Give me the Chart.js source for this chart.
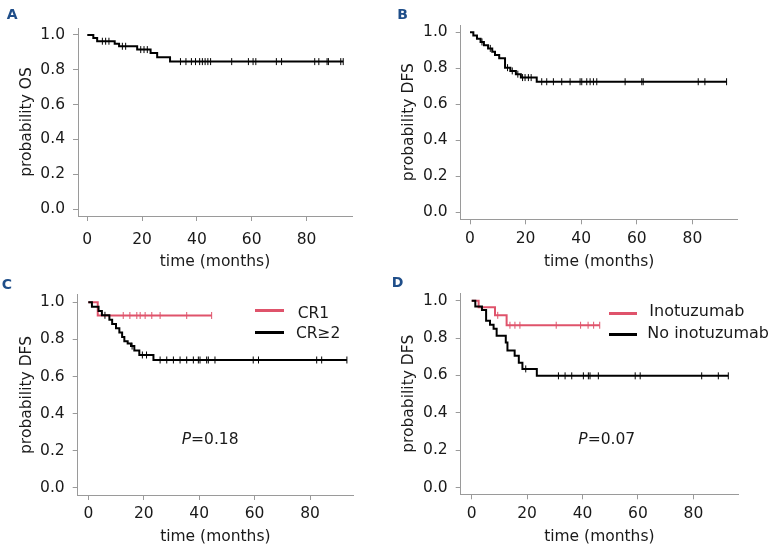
<!DOCTYPE html>
<html>
<head>
<meta charset="utf-8">
<script src="https://cdn.jsdelivr.net/npm/chart.js@4/dist/chart.umd.min.js"></script>
<style>
  html, body { margin: 0; padding: 0; background: #fff; }
  #wrap { position: relative; width: 775px; height: 552px; overflow: hidden; font-family: "DejaVu Sans", sans-serif; color: #1a1a1a; }
  canvas { position: absolute; }
  .lbl { position: absolute; white-space: nowrap; line-height: 20px; }
  .letter { position: absolute; font-weight: bold; font-size: 14px; line-height: 16px; color: #1f4e89; }
  .sw { position: absolute; height: 3px; }
</style>
</head>
<body>
<div id="wrap">
  <canvas id="cA" width="387" height="276" style="left:0px;top:0px"></canvas>
  <canvas id="cB" width="387" height="276" style="left:388px;top:0px"></canvas>
  <canvas id="cC" width="387" height="276" style="left:0px;top:276px"></canvas>
  <canvas id="cD" width="387" height="276" style="left:388px;top:276px"></canvas>

  <div class="letter" style="left:6.7px;top:5.6px">A</div>
  <div class="letter" style="left:397.3px;top:5.6px">B</div>
  <div class="letter" style="left:1.7px;top:275.7px">C</div>
  <div class="letter" style="left:391.7px;top:274px">D</div>

  <div class="sw" style="left:255px;top:309.2px;width:28.5px;background:#DF536B"></div>
  <div class="sw" style="left:255px;top:330.8px;width:28.5px;background:#000"></div>
  <div class="lbl" style="left:297.7px;top:302.8px;font-size:15.5px">CR1</div>
  <div class="lbl" style="left:296px;top:322.8px;font-size:15.5px">CR≥2</div>

  <div class="sw" style="left:608.5px;top:311.8px;width:28px;background:#DF536B"></div>
  <div class="sw" style="left:608.5px;top:332.8px;width:28px;background:#000"></div>
  <div class="lbl" style="left:649.3px;top:301.3px;font-size:16px">Inotuzumab</div>
  <div class="lbl" style="left:647.3px;top:322.8px;font-size:16px">No inotuzumab</div>

  <div class="lbl" style="left:181.7px;top:428.6px;font-size:15.5px"><i>P</i>=0.18</div>
  <div class="lbl" style="left:578.3px;top:428.6px;font-size:15.5px"><i>P</i>=0.07</div>
</div>
<script>
// ---- tick labels ----
const timeTicks = [0, 20, 40, 60, 80];
const probTicks = [0, 0.2, 0.4, 0.6, 0.8, 1.0];

// ---- Panel A: overall survival ----
const osTimes  = [0, 2.2, 3.6, 10, 11.6, 18.2, 23.1, 25.5, 30.2];
const osSurv   = [1, 0.983, 0.964, 0.95, 0.935, 0.916, 0.897, 0.872, 0.847];
const osCensor = [5.5, 6.7, 7.9, 12.8, 14, 19.5, 20.7, 21.9, 34, 36, 38, 39.5, 41, 42, 43, 44, 45, 52.7, 58.8, 60.5, 61.5, 69, 70.9, 83, 84.5, 87.5, 88, 92.5, 93.4];

// ---- Panel B: disease-free survival ----
const dfsTimes  = [0, 1.2, 2.5, 3.8, 5, 6.5, 8, 9, 10.5, 12.6, 14.5, 16.5, 18.3, 24];
const dfsSurv   = [1, 0.982, 0.964, 0.946, 0.928, 0.91, 0.892, 0.874, 0.856, 0.803, 0.785, 0.767, 0.748, 0.725];
const dfsCensor = [4.3, 7.3, 13.5, 15.2, 17.2, 18.9, 19.8, 21, 22, 25.8, 27.6, 30, 33, 36, 39.6, 40.2, 42, 43.2, 44.4, 45.6, 55.8, 61.8, 62.3, 82.1, 84.5, 92.3];

// ---- Panel C: CR1 vs CR>=2 ----
const cr1Times  = [0, 3.4];
const cr1Surv   = [1, 0.929];
const cr1Censor = [12.6, 15, 17.5, 18.7, 20.5, 22.9, 25.9, 35.5, 44.5];
const cr2Times  = [0, 1.3, 3.7, 4.9, 7.6, 8.6, 10, 11.2, 12.2, 13, 14.2, 15.4, 16.6, 18.4, 23.5];
const cr2Surv   = [1, 0.976, 0.953, 0.93, 0.906, 0.883, 0.86, 0.837, 0.813, 0.79, 0.778, 0.764, 0.74, 0.716, 0.689];
const cr2Censor = [6, 15.8, 19.5, 21, 25.9, 28.3, 30.7, 33.1, 35.5, 37.9, 39.7, 40.3, 42.7, 43.3, 45.7, 59.5, 61.4, 82.4, 84.2, 93.3];

// ---- Panel D: Inotuzumab vs no inotuzumab ----
const inoTimes    = [0, 2.5, 8.4, 12.6];
const inoSurv     = [1, 0.965, 0.922, 0.869];
const inoCensor   = [9.4, 13.8, 15.6, 17.4, 30.5, 39.3, 42, 44, 46.2];
const noInoTimes  = [0, 1.3, 3.7, 5.2, 6.6, 7.9, 9, 12.3, 12.9, 15.5, 17, 18.3, 23.5];
const noInoSurv   = [1, 0.969, 0.95, 0.893, 0.872, 0.85, 0.812, 0.776, 0.734, 0.705, 0.668, 0.635, 0.598];
const noInoCensor = [19.5, 31.3, 33.7, 36.1, 40.3, 42.1, 42.7, 45.7, 59, 60.8, 83, 89, 92.6];

const PINK = '#DF536B';
const BLACK = '#000000';
const AXIS = '#9a9a9a';
const TEXT = '#1a1a1a';
const FONT = 'DejaVu Sans';

function survAt(times, surv, t) {
  let s = surv[0];
  for (let i = 0; i < times.length; i++) { if (times[i] <= t) s = surv[i]; }
  return s;
}

function kmDatasets(times, surv, censor, color, order) {
  const end = Math.max(times[times.length - 1], ...censor);
  const line = times.map((t, i) => ({ x: t, y: surv[i] }));
  line.push({ x: end, y: surv[surv.length - 1] });
  const marks = censor.map(c => ({ x: c, y: survAt(times, surv, c) }));
  return [
    { data: line, borderColor: color, borderWidth: 2, stepped: true, pointRadius: 0, fill: false, order: order },
    { data: marks, showLine: false, borderColor: color, backgroundColor: color, borderWidth: 1,
      pointStyle: 'line', rotation: 90, pointRadius: 3.5, order: order }
  ];
}

function makeChart(id, datasets, g) {
  new Chart(document.getElementById(id), {
    type: 'line',
    data: { datasets: datasets },
    options: {
      responsive: false,
      animation: false,
      events: [],
      layout: { autoPadding: false, padding: { left: 0, top: g.top, right: g.right, bottom: g.bottom } },
      plugins: { legend: { display: false }, tooltip: { enabled: false } },
      scales: {
        x: {
          type: 'linear', min: g.xmin, max: g.xmax,
          afterBuildTicks: s => { s.ticks = timeTicks.map(v => ({ value: v })); },
          afterFit: s => { s.height = g.xH; },
          grid: { display: true, drawOnChartArea: false, drawTicks: true, tickLength: 5, color: AXIS, lineWidth: 1 },
          border: { display: true, color: AXIS, width: 1 },
          ticks: { color: TEXT, padding: g.xPad, maxRotation: 0, font: { family: FONT, size: 15.5 },
                   callback: v => String(v) },
          title: { display: true, text: 'time (months)', color: TEXT, padding: { top: 0, bottom: 0 },
                   font: { family: FONT, size: 15.5 } }
        },
        y: {
          type: 'linear', min: g.ymin, max: g.ymax,
          afterBuildTicks: s => { s.ticks = probTicks.map(v => ({ value: v })); },
          afterFit: s => { s.width = g.yW; },
          grid: { display: true, drawOnChartArea: false, drawTicks: true, tickLength: 5, color: AXIS, lineWidth: 1 },
          border: { display: true, color: AXIS, width: 1 },
          ticks: { color: TEXT, padding: 8, font: { family: FONT, size: 15.5 },
                   callback: v => Number(v).toFixed(1) },
          title: { display: true, text: g.yTitle, color: TEXT, padding: { top: g.yTitlePad, bottom: 0 },
                   font: { family: FONT, size: 15.5 } }
        }
      }
    }
  });
}

makeChart('cA', kmDatasets(osTimes, osSurv, osCensor, BLACK, 0),
  { top: 28, right: 35, bottom: 4.7, xH: 55.3, yW: 78, xmin: -3.39, xmax: 96.6, ymin: -0.04, ymax: 1.04,
    xPad: 9.5, yTitle: 'probability OS', yTitlePad: 17.7 });

makeChart('cB', kmDatasets(dfsTimes, dfsSurv, dfsCensor, BLACK, 0),
  { top: 25, right: 37.3, bottom: 5, xH: 51.7, yW: 72.7, xmin: -3.35, xmax: 96.3, ymin: -0.039, ymax: 1.04,
    xPad: 5, yTitle: 'probability DFS', yTitlePad: 11.7 });

makeChart('cC', [].concat(
    kmDatasets(cr1Times, cr1Surv, cr1Censor, PINK, 1),
    kmDatasets(cr2Times, cr2Surv, cr2Censor, BLACK, 0)),
  { top: 18.9, right: 34, bottom: 6, xH: 51, yW: 77.7, xmin: -3.83, xmax: 95.5, ymin: -0.039, ymax: 1.04,
    xPad: 5, yTitle: 'probability DFS', yTitlePad: 17.4 });

makeChart('cD', [].concat(
    kmDatasets(inoTimes, inoSurv, inoCensor, PINK, 1),
    kmDatasets(noInoTimes, noInoSurv, noInoCensor, BLACK, 0)),
  { top: 12, right: 37, bottom: 6, xH: 51.7, yW: 72.7, xmin: -3.97, xmax: 96.1, ymin: -0.0365, ymax: 1.04,
    xPad: 5, yTitle: 'probability DFS', yTitlePad: 11.7 });
</script>
</body>
</html>
